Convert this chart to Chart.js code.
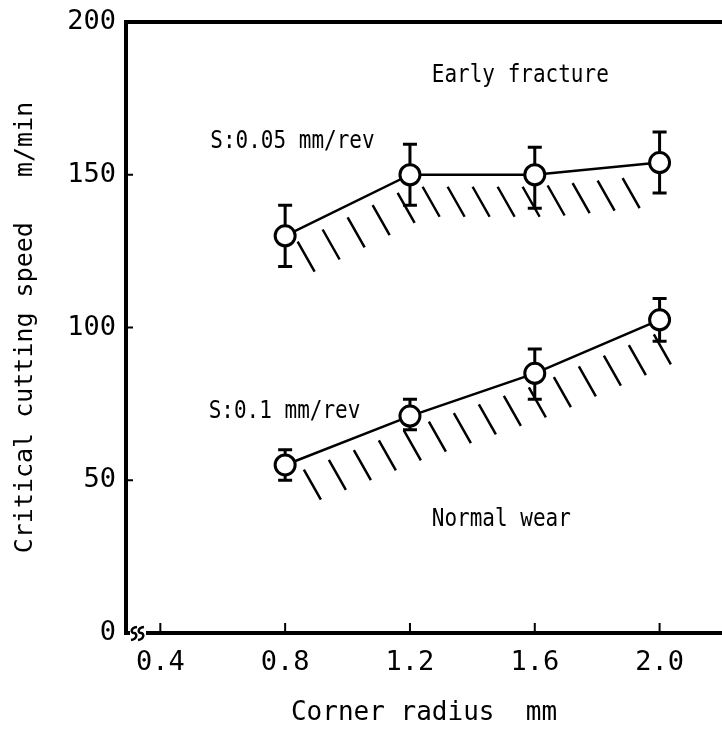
<!DOCTYPE html>
<html>
<head>
<meta charset="utf-8">
<script src="https://cdn.jsdelivr.net/npm/chart.js@4.4.1/dist/chart.umd.min.js"></script>
<style>
  html, body { margin: 0; padding: 0; background: #fff; }
  canvas { display: block; }
</style>
</head>
<body>
<canvas id="myChart" width="722" height="733"></canvas>
<script>
// corner radius (mm)
const radius = [0.8, 1.2, 1.6, 2.0];
const xTicks = [0.4, 0.8, 1.2, 1.6, 2.0];
const yTicks = [0, 50, 100, 150, 200];

// S: 0.05 mm/rev
const speedA = [130, 150, 150, 154];
const lowA = [120, 140, 139, 144];
const highA = [140, 160, 159, 164];

// S: 0.1 mm/rev
const speedB = [55, 71, 85, 102.5];
const lowB = [50, 66.5, 76.5, 95.5];
const highB = [60, 76.5, 93, 109.5];

// range of the hatched boundary along x (mm)
const hatchFrom = [0.84, 0.86];
const hatchTo = [1.9, 2.02];

// text written inside the plot: [text, x (mm), y (m/min)]
const notes = [
  ['Early fracture', 1.27, 182.5],
  ['S:0.05 mm/rev', 0.56, 161],
  ['S:0.1 mm/rev', 0.555, 72.5],
  ['Normal wear', 1.27, 37]
];

const FONT = '"DejaVu Sans Mono", "Liberation Mono", monospace';
const lows = [lowA, lowB];
const highs = [highA, highB];

// draws the error bars and the hatch under each curve
const underPlugin = {
  id: 'under',
  beforeDatasetsDraw(chart) {
    const ctx = chart.ctx;
    const xs = chart.scales.x, ys = chart.scales.y;
    ctx.save();
    ctx.strokeStyle = '#000';
    ctx.lineCap = 'butt';
    chart.data.datasets.forEach((ds, i) => {
      const meta = chart.getDatasetMeta(i);
      const pts = meta.data.map(p => [p.x, p.y]);
      function lineY(px) {
        let k = 0;
        while (k < pts.length - 2 && px > pts[k + 1][0]) k++;
        const a = pts[k], b = pts[k + 1];
        return a[1] + (b[1] - a[1]) * (px - a[0]) / (b[0] - a[0]);
      }
      // hatch strokes
      const x0 = xs.getPixelForValue(hatchFrom[i]);
      const x1 = xs.getPixelForValue(hatchTo[i]);
      ctx.lineWidth = 2.5;
      ctx.beginPath();
      for (let px = x0; px <= x1; px += 25) {
        const y0 = lineY(px) + 12;
        ctx.moveTo(px, y0);
        ctx.lineTo(px + 17, y0 + 30);
      }
      ctx.stroke();
      // error bars
      ctx.lineWidth = 3;
      ds.data.forEach((v, j) => {
        const px = xs.getPixelForValue(radius[j]);
        const yl = ys.getPixelForValue(lows[i][j]);
        const yh = ys.getPixelForValue(highs[i][j]);
        ctx.beginPath();
        ctx.moveTo(px, yl); ctx.lineTo(px, yh);
        ctx.moveTo(px - 7, yl); ctx.lineTo(px + 7, yl);
        ctx.moveTo(px - 7, yh); ctx.lineTo(px + 7, yh);
        ctx.stroke();
      });
    });
    ctx.restore();
  }
};

// frame top line, inside ticks, axis break and notes
const framePlugin = {
  id: 'frame',
  afterDraw(chart) {
    const ctx = chart.ctx;
    const a = chart.chartArea;
    const xs = chart.scales.x, ys = chart.scales.y;
    ctx.save();
    ctx.strokeStyle = '#000';
    ctx.lineWidth = 4;
    ctx.beginPath();
    ctx.moveTo(a.left - 2, a.top);
    ctx.lineTo(a.right, a.top);
    ctx.stroke();

    ctx.lineWidth = 2;
    ctx.beginPath();
    xTicks.forEach(v => {
      const px = xs.getPixelForValue(v);
      ctx.moveTo(px, a.bottom);
      ctx.lineTo(px, a.bottom - 10);
    });
    yTicks.slice(1, -1).forEach(v => {
      const py = ys.getPixelForValue(v);
      ctx.moveTo(a.left, py);
      ctx.lineTo(a.left + 7, py);
    });
    ctx.stroke();

    // axis break
    const by = a.bottom;
    ctx.fillStyle = '#fff';
    ctx.fillRect(a.left + 4, by - 3, 16, 7);
    ctx.lineWidth = 2.5;
    [a.left + 8, a.left + 15].forEach(sx => {
      ctx.beginPath();
      ctx.moveTo(sx + 3, by - 6);
      ctx.bezierCurveTo(sx - 4, by - 5, sx - 3, by, sx, by);
      ctx.bezierCurveTo(sx + 3, by, sx + 4, by + 6, sx - 3, by + 7);
      ctx.stroke();
    });

    // notes, a little condensed like the typewriter lettering
    ctx.fillStyle = '#000';
    ctx.font = '25px ' + FONT;
    ctx.textAlign = 'left';
    ctx.textBaseline = 'middle';
    notes.forEach(n => {
      const px = xs.getPixelForValue(n[1]);
      const py = ys.getPixelForValue(n[2]);
      ctx.save();
      ctx.translate(px, py);
      ctx.scale(0.84, 1);
      ctx.fillText(n[0], 0, 0);
      ctx.restore();
    });
    ctx.restore();
  }
};

function makeSet(values) {
  return {
    data: values,
    borderColor: '#000',
    borderWidth: 2.5,
    pointRadius: 10,
    pointHoverRadius: 10,
    pointBorderWidth: 3,
    pointBorderColor: '#000',
    pointBackgroundColor: '#fff',
    tension: 0,
    fill: false
  };
}

var ctx = document.getElementById('myChart').getContext('2d');
var myChart = new Chart(ctx, {
  type: 'line',
  data: {
    labels: radius,
    datasets: [makeSet(speedA), makeSet(speedB)]
  },
  options: {
    responsive: false,
    animation: false,
    devicePixelRatio: 1,
    layout: { autoPadding: false, padding: { top: 22, right: 0, bottom: 0, left: 0 } },
    plugins: { legend: { display: false }, tooltip: { enabled: false } },
    scales: {
      x: {
        type: 'linear',
        min: 0.29,
        max: 2.2,
        afterBuildTicks: s => { s.ticks = xTicks.map(v => ({ value: v })); },
        afterFit: s => { s.height = 100; s.paddingLeft = 0; s.paddingRight = 0; },
        grid: { display: false, drawTicks: false },
        border: { display: true, width: 4, color: '#000' },
        ticks: {
          padding: 14,
          color: '#000',
          font: { family: FONT, size: 27 },
          maxRotation: 0,
          callback: v => Number(v).toFixed(1)
        },
        title: {
          display: true,
          text: 'Corner radius  mm',
          color: '#000',
          font: { family: FONT, size: 26 },
          padding: { top: 0, bottom: 4 }
        }
      },
      y: {
        type: 'linear',
        min: 0,
        max: 200,
        afterBuildTicks: s => { s.ticks = yTicks.map(v => ({ value: v })); },
        afterFit: s => { s.width = 126; s.paddingTop = 0; s.paddingBottom = 0; },
        grid: { display: false, drawTicks: false },
        border: { display: true, width: 4, color: '#000' },
        ticks: {
          padding: 10,
          color: '#000',
          font: { family: FONT, size: 27 }
        },
        title: {
          display: true,
          text: 'Critical cutting speed   m/min',
          color: '#000',
          font: { family: FONT, size: 25 },
          padding: { top: 10, bottom: 0 }
        }
      }
    }
  },
  plugins: [underPlugin, framePlugin]
});
</script>
</body>
</html>
